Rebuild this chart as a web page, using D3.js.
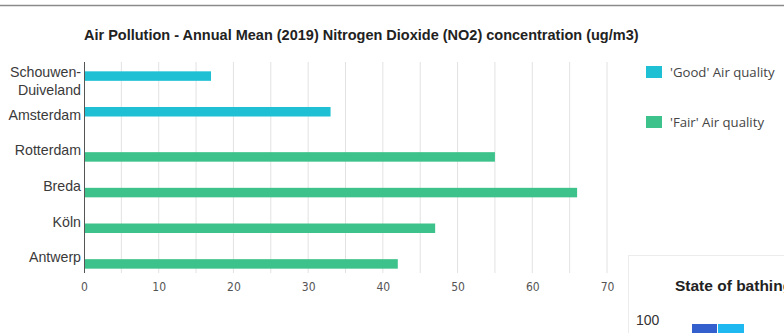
<!DOCTYPE html>
<html><head><meta charset="utf-8">
<script src="https://cdn.jsdelivr.net/npm/d3@7"></script>
<style>body{margin:0;background:#fff;} svg{display:block;}</style>
</head><body>
<svg id="c" width="784" height="333"></svg>
<script>
const categories = ["Schouwen-Duiveland", "Amsterdam", "Rotterdam", "Breda", "Köln", "Antwerp"];
const seriesNames = ["'Good' Air quality", "'Fair' Air quality"];
const goodValues = [17, 33, null, null, null, null];
const fairValues = [null, null, 55, 66, 47, 42];
const xTicks = [0, 10, 20, 30, 40, 50, 60, 70];
const gridTicks = [0, 5, 10, 15, 20, 25, 30, 35, 40, 45, 50, 55, 60, 65, 70];
const colors = ["#1fc0d4", "#3cc28a"];
const title = "Air Pollution - Annual Mean (2019) Nitrogen Dioxide (NO2) concentration (ug/m3)";

const svg = d3.select("#c");
const W = 784;

// top rule
svg.append("line").attr("x1",0).attr("x2",W).attr("y1",5.5).attr("y2",5.5)
  .attr("stroke","#8a8a8a").attr("stroke-width",1.5);

const x = d3.scaleLinear().domain([0,70]).range([84,607]);
const y0 = d3.scaleBand().domain(categories).range([63,277]).padding(0);
const y1 = d3.scaleBand().domain(seriesNames)
  .range([y0.bandwidth()/2 - 9.5, y0.bandwidth()/2 + 9.5]).padding(0);

// gridlines
svg.append("g").selectAll("line").data(gridTicks.filter(d=>d>0)).join("line")
  .attr("x1",d=>x(d)).attr("x2",d=>x(d)).attr("y1",62).attr("y2",273)
  .attr("stroke","#e2e2e2").attr("stroke-width",1);

// bars
const data = [];
categories.forEach((c,i)=>{
  if (goodValues[i]!=null) data.push({c, s:seriesNames[0], v:goodValues[i], col:colors[0]});
  if (fairValues[i]!=null) data.push({c, s:seriesNames[1], v:fairValues[i], col:colors[1]});
});
svg.append("g").selectAll("rect").data(data).join("rect")
  .attr("x", x(0)).attr("y", d=>y0(d.c)+y1(d.s))
  .attr("width", d=>x(d.v)-x(0)).attr("height", y1.bandwidth())
  .attr("fill", d=>d.col);

// y axis line
svg.append("line").attr("x1",x(0)+0.5).attr("x2",x(0)+0.5).attr("y1",62).attr("y2",273)
  .attr("stroke","#555").attr("stroke-width",1);

// y labels
const yl = svg.append("g").attr("font-family","Liberation Sans, Arial, sans-serif")
  .attr("font-size",14.2).attr("fill","#3a3a3a").attr("text-anchor","end");
categories.forEach(c=>{
  const cy = y0(c)+y0.bandwidth()/2;
  if (c==="Schouwen-Duiveland") {
    yl.append("text").attr("x",81).attr("y",cy-4).text("Schouwen-");
    yl.append("text").attr("x",81).attr("y",cy+14).text("Duiveland");
  } else {
    yl.append("text").attr("x",81).attr("y",cy+3).text(c);
  }
});

// x tick labels
const xAxis = d3.axisBottom(x).tickValues(xTicks).tickSize(0).tickPadding(0);
const gx = svg.append("g").attr("transform","translate(0,287)").call(xAxis);
gx.select(".domain").remove();
gx.selectAll("text").attr("font-family","DejaVu Sans Condensed, Liberation Sans Narrow, sans-serif")
  .attr("font-size",12).attr("fill","#555").attr("dy","0.35em");

// title
svg.append("text").attr("x",84).attr("y",40)
  .attr("font-family","Liberation Sans, Arial, sans-serif").attr("font-weight","bold")
  .attr("font-size",14.5).attr("fill","#222").text(title);

// legend
const lg = svg.append("g");
seriesNames.forEach((s,i)=>{
  lg.append("rect").attr("x",646).attr("y",66+i*50).attr("width",16).attr("height",12).attr("fill",colors[i]);
  lg.append("text").attr("x",670).attr("y",77+i*50)
    .attr("font-family","Open Sans, sans-serif").attr("font-size",13.2).attr("fill","#444").text(s);
});

// neighbouring panel
svg.append("rect").attr("x",628.5).attr("y",255.5).attr("width",200).attr("height",120)
  .attr("fill","#fff").attr("stroke","#ececec");
svg.append("text").attr("x",675).attr("y",291)
  .attr("font-family","Liberation Sans, Arial, sans-serif").attr("font-weight","bold")
  .attr("font-size",15.5).attr("fill","#222").text("State of bathing");
svg.append("text").attr("x",636).attr("y",325)
  .attr("font-family","Liberation Sans, Arial, sans-serif")
  .attr("font-size",14).attr("fill","#333").text("100");
svg.append("rect").attr("x",692).attr("y",324).attr("width",25).attr("height",12).attr("fill","#3360cc");
svg.append("rect").attr("x",718).attr("y",324).attr("width",26).attr("height",12).attr("fill","#1fb8f0");
</script>
</body></html>
